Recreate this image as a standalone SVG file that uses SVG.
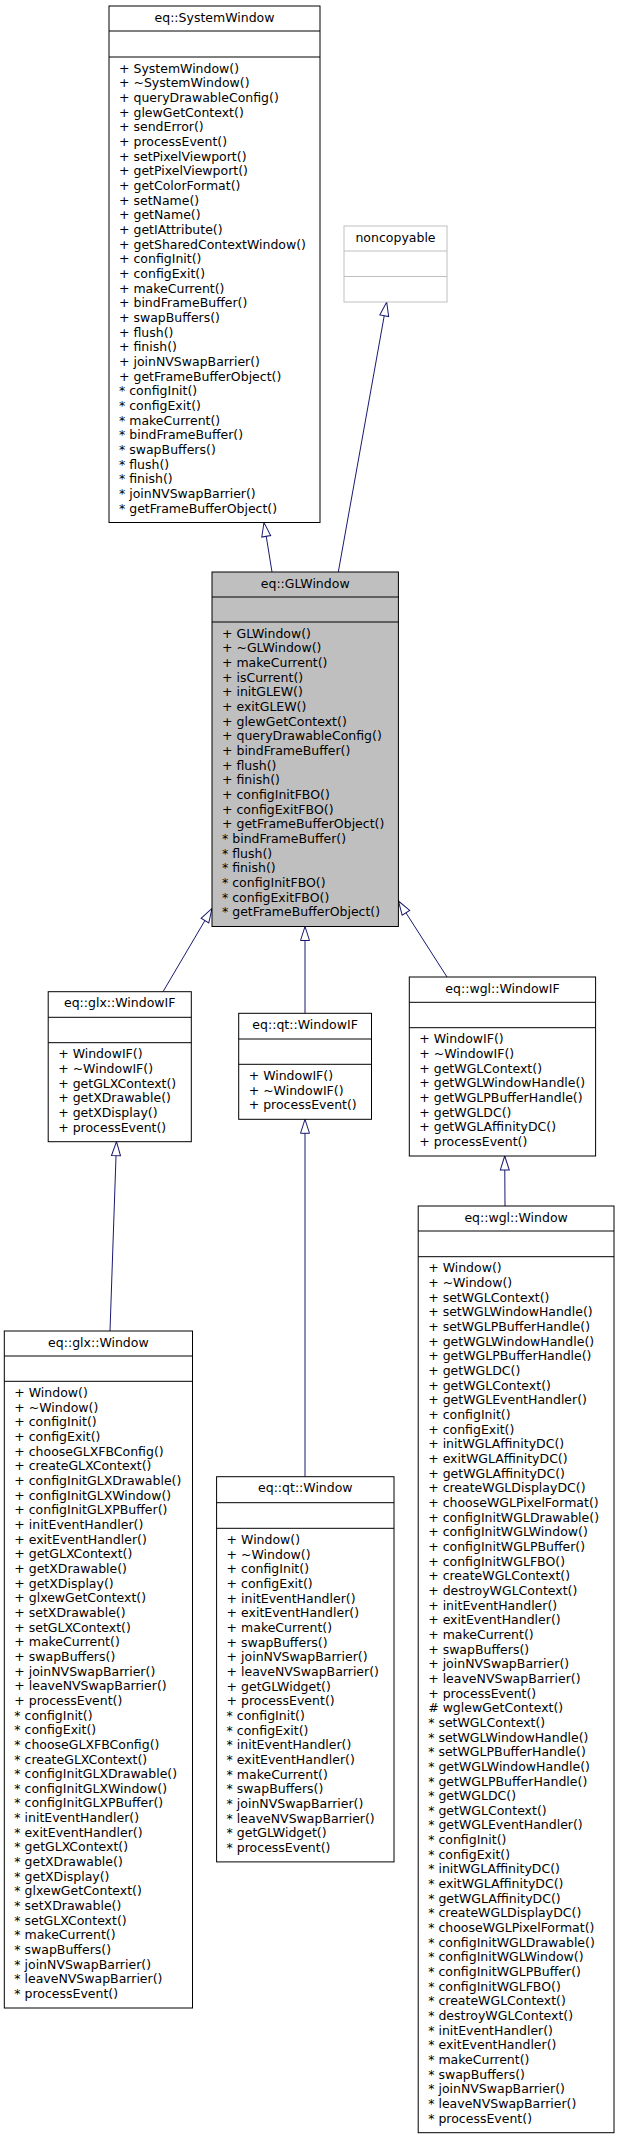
<svg xmlns="http://www.w3.org/2000/svg" width="620" height="2139" viewBox="0 0 620 2139">
<style>
text{font-family:"DejaVu Sans","Liberation Sans",sans-serif;font-size:12.5px;fill:#000}
.h{text-anchor:middle}
.box{fill:#fff;stroke:#000;stroke-width:1}
.cur{fill:#bfbfbf;stroke:#000;stroke-width:1}
.ext{fill:#fff;stroke:#bfbfbf;stroke-width:1}
.sep{stroke:#000;stroke-width:1}
.sepx{stroke:#bfbfbf;stroke-width:1}
.edge{stroke:#191970;stroke-width:1;fill:none;marker-end:url(#tri)}
</style>
<defs>
<marker id="tri" viewBox="0 0 14 10" refX="14" refY="5" markerWidth="14" markerHeight="10" markerUnits="userSpaceOnUse" orient="auto" overflow="visible">
<path d="M0,0.5 L14,5 L0,9.5 Z" fill="#fff" stroke="#191970" stroke-width="1"/>
</marker>
</defs>
<rect width="620" height="2139" fill="#fff"/>

<g id="edges">
<line class="edge" x1="272" y1="572" x2="264" y2="522.5"/>
<line class="edge" x1="338.3" y1="572" x2="386.7" y2="302"/>
<line class="edge" x1="163" y1="991.7" x2="212" y2="908.5"/>
<line class="edge" x1="305" y1="1013.3" x2="305" y2="926.5"/>
<line class="edge" x1="447" y1="977" x2="398.4" y2="901"/>
<line class="edge" x1="110" y1="1331" x2="116.5" y2="1141.7"/>
<line class="edge" x1="305" y1="1476.7" x2="305" y2="1119.3"/>
<line class="edge" x1="505" y1="1206" x2="504.7" y2="1156"/>
</g>

<g id="SystemWindow">
<rect class="box" x="109" y="6" width="211" height="516.5"/>
<line class="sep" x1="109" y1="31" x2="320" y2="31"/>
<line class="sep" x1="109" y1="57" x2="320" y2="57"/>
<text class="h" x="214.5" y="21.5">eq::SystemWindow</text>
<text x="119" y="72.7"><tspan x="119">+ SystemWindow()</tspan><tspan x="119" dy="14.66">+ ~SystemWindow()</tspan><tspan x="119" dy="14.66">+ queryDrawableConfig()</tspan><tspan x="119" dy="14.66">+ glewGetContext()</tspan><tspan x="119" dy="14.66">+ sendError()</tspan><tspan x="119" dy="14.66">+ processEvent()</tspan><tspan x="119" dy="14.66">+ setPixelViewport()</tspan><tspan x="119" dy="14.66">+ getPixelViewport()</tspan><tspan x="119" dy="14.66">+ getColorFormat()</tspan><tspan x="119" dy="14.66">+ setName()</tspan><tspan x="119" dy="14.66">+ getName()</tspan><tspan x="119" dy="14.66">+ getIAttribute()</tspan><tspan x="119" dy="14.66">+ getSharedContextWindow()</tspan><tspan x="119" dy="14.66">+ configInit()</tspan><tspan x="119" dy="14.66">+ configExit()</tspan><tspan x="119" dy="14.66">+ makeCurrent()</tspan><tspan x="119" dy="14.66">+ bindFrameBuffer()</tspan><tspan x="119" dy="14.66">+ swapBuffers()</tspan><tspan x="119" dy="14.66">+ flush()</tspan><tspan x="119" dy="14.66">+ finish()</tspan><tspan x="119" dy="14.66">+ joinNVSwapBarrier()</tspan><tspan x="119" dy="14.66">+ getFrameBufferObject()</tspan><tspan x="119" dy="14.66">* configInit()</tspan><tspan x="119" dy="14.66">* configExit()</tspan><tspan x="119" dy="14.66">* makeCurrent()</tspan><tspan x="119" dy="14.66">* bindFrameBuffer()</tspan><tspan x="119" dy="14.66">* swapBuffers()</tspan><tspan x="119" dy="14.66">* flush()</tspan><tspan x="119" dy="14.66">* finish()</tspan><tspan x="119" dy="14.66">* joinNVSwapBarrier()</tspan><tspan x="119" dy="14.66">* getFrameBufferObject()</tspan></text>
</g>

<g id="noncopyable">
<rect class="ext" x="344" y="226" width="103" height="76"/>
<line class="sepx" x1="344" y1="251" x2="447" y2="251"/>
<line class="sepx" x1="344" y1="276.5" x2="447" y2="276.5"/>
<text class="h" x="395.5" y="241.6">noncopyable</text>
</g>

<g id="GLWindow">
<rect class="cur" x="212" y="572" width="186.4" height="354.5"/>
<line class="sep" x1="212" y1="597" x2="398.4" y2="597"/>
<line class="sep" x1="212" y1="622" x2="398.4" y2="622"/>
<text class="h" x="305.2" y="587.5">eq::GLWindow</text>
<text x="222" y="637.7"><tspan x="222">+ GLWindow()</tspan><tspan x="222" dy="14.66">+ ~GLWindow()</tspan><tspan x="222" dy="14.66">+ makeCurrent()</tspan><tspan x="222" dy="14.66">+ isCurrent()</tspan><tspan x="222" dy="14.66">+ initGLEW()</tspan><tspan x="222" dy="14.66">+ exitGLEW()</tspan><tspan x="222" dy="14.66">+ glewGetContext()</tspan><tspan x="222" dy="14.66">+ queryDrawableConfig()</tspan><tspan x="222" dy="14.66">+ bindFrameBuffer()</tspan><tspan x="222" dy="14.66">+ flush()</tspan><tspan x="222" dy="14.66">+ finish()</tspan><tspan x="222" dy="14.66">+ configInitFBO()</tspan><tspan x="222" dy="14.66">+ configExitFBO()</tspan><tspan x="222" dy="14.66">+ getFrameBufferObject()</tspan><tspan x="222" dy="14.66">* bindFrameBuffer()</tspan><tspan x="222" dy="14.66">* flush()</tspan><tspan x="222" dy="14.66">* finish()</tspan><tspan x="222" dy="14.66">* configInitFBO()</tspan><tspan x="222" dy="14.66">* configExitFBO()</tspan><tspan x="222" dy="14.66">* getFrameBufferObject()</tspan></text>
</g>

<g id="glxWindowIF">
<rect class="box" x="48.2" y="991.7" width="143.1" height="150"/>
<line class="sep" x1="48.2" y1="1017.3" x2="191.3" y2="1017.3"/>
<line class="sep" x1="48.2" y1="1042.7" x2="191.3" y2="1042.7"/>
<text class="h" x="119.7" y="1007.2">eq::glx::WindowIF</text>
<text x="58.2" y="1058.4"><tspan x="58.2">+ WindowIF()</tspan><tspan x="58.2" dy="14.66">+ ~WindowIF()</tspan><tspan x="58.2" dy="14.66">+ getGLXContext()</tspan><tspan x="58.2" dy="14.66">+ getXDrawable()</tspan><tspan x="58.2" dy="14.66">+ getXDisplay()</tspan><tspan x="58.2" dy="14.66">+ processEvent()</tspan></text>
</g>

<g id="qtWindowIF">
<rect class="box" x="238.7" y="1013.3" width="132.8" height="106"/>
<line class="sep" x1="238.7" y1="1039" x2="371.5" y2="1039"/>
<line class="sep" x1="238.7" y1="1064.3" x2="371.5" y2="1064.3"/>
<text class="h" x="305.1" y="1028.8">eq::qt::WindowIF</text>
<text x="248.7" y="1080"><tspan x="248.7">+ WindowIF()</tspan><tspan x="248.7" dy="14.66">+ ~WindowIF()</tspan><tspan x="248.7" dy="14.66">+ processEvent()</tspan></text>
</g>

<g id="wglWindowIF">
<rect class="box" x="409.3" y="977" width="186.3" height="179"/>
<line class="sep" x1="409.3" y1="1002.3" x2="595.6" y2="1002.3"/>
<line class="sep" x1="409.3" y1="1027.7" x2="595.6" y2="1027.7"/>
<text class="h" x="502.5" y="992.5">eq::wgl::WindowIF</text>
<text x="419.3" y="1043.4"><tspan x="419.3">+ WindowIF()</tspan><tspan x="419.3" dy="14.66">+ ~WindowIF()</tspan><tspan x="419.3" dy="14.66">+ getWGLContext()</tspan><tspan x="419.3" dy="14.66">+ getWGLWindowHandle()</tspan><tspan x="419.3" dy="14.66">+ getWGLPBufferHandle()</tspan><tspan x="419.3" dy="14.66">+ getWGLDC()</tspan><tspan x="419.3" dy="14.66">+ getWGLAffinityDC()</tspan><tspan x="419.3" dy="14.66">+ processEvent()</tspan></text>
</g>

<g id="glxWindow">
<rect class="box" x="4.3" y="1331" width="188.2" height="677"/>
<line class="sep" x1="4.3" y1="1356" x2="192.5" y2="1356"/>
<line class="sep" x1="4.3" y1="1381.3" x2="192.5" y2="1381.3"/>
<text class="h" x="98.4" y="1346.5">eq::glx::Window</text>
<text x="14.3" y="1397"><tspan x="14.3">+ Window()</tspan><tspan x="14.3" dy="14.66">+ ~Window()</tspan><tspan x="14.3" dy="14.66">+ configInit()</tspan><tspan x="14.3" dy="14.66">+ configExit()</tspan><tspan x="14.3" dy="14.66">+ chooseGLXFBConfig()</tspan><tspan x="14.3" dy="14.66">+ createGLXContext()</tspan><tspan x="14.3" dy="14.66">+ configInitGLXDrawable()</tspan><tspan x="14.3" dy="14.66">+ configInitGLXWindow()</tspan><tspan x="14.3" dy="14.66">+ configInitGLXPBuffer()</tspan><tspan x="14.3" dy="14.66">+ initEventHandler()</tspan><tspan x="14.3" dy="14.66">+ exitEventHandler()</tspan><tspan x="14.3" dy="14.66">+ getGLXContext()</tspan><tspan x="14.3" dy="14.66">+ getXDrawable()</tspan><tspan x="14.3" dy="14.66">+ getXDisplay()</tspan><tspan x="14.3" dy="14.66">+ glxewGetContext()</tspan><tspan x="14.3" dy="14.66">+ setXDrawable()</tspan><tspan x="14.3" dy="14.66">+ setGLXContext()</tspan><tspan x="14.3" dy="14.66">+ makeCurrent()</tspan><tspan x="14.3" dy="14.66">+ swapBuffers()</tspan><tspan x="14.3" dy="14.66">+ joinNVSwapBarrier()</tspan><tspan x="14.3" dy="14.66">+ leaveNVSwapBarrier()</tspan><tspan x="14.3" dy="14.66">+ processEvent()</tspan><tspan x="14.3" dy="14.66">* configInit()</tspan><tspan x="14.3" dy="14.66">* configExit()</tspan><tspan x="14.3" dy="14.66">* chooseGLXFBConfig()</tspan><tspan x="14.3" dy="14.66">* createGLXContext()</tspan><tspan x="14.3" dy="14.66">* configInitGLXDrawable()</tspan><tspan x="14.3" dy="14.66">* configInitGLXWindow()</tspan><tspan x="14.3" dy="14.66">* configInitGLXPBuffer()</tspan><tspan x="14.3" dy="14.66">* initEventHandler()</tspan><tspan x="14.3" dy="14.66">* exitEventHandler()</tspan><tspan x="14.3" dy="14.66">* getGLXContext()</tspan><tspan x="14.3" dy="14.66">* getXDrawable()</tspan><tspan x="14.3" dy="14.66">* getXDisplay()</tspan><tspan x="14.3" dy="14.66">* glxewGetContext()</tspan><tspan x="14.3" dy="14.66">* setXDrawable()</tspan><tspan x="14.3" dy="14.66">* setGLXContext()</tspan><tspan x="14.3" dy="14.66">* makeCurrent()</tspan><tspan x="14.3" dy="14.66">* swapBuffers()</tspan><tspan x="14.3" dy="14.66">* joinNVSwapBarrier()</tspan><tspan x="14.3" dy="14.66">* leaveNVSwapBarrier()</tspan><tspan x="14.3" dy="14.66">* processEvent()</tspan></text>
</g>

<g id="qtWindow">
<rect class="box" x="216.6" y="1476.7" width="177.4" height="385.2"/>
<line class="sep" x1="216.6" y1="1502.7" x2="394" y2="1502.7"/>
<line class="sep" x1="216.6" y1="1528.3" x2="394" y2="1528.3"/>
<text class="h" x="305.3" y="1492.2">eq::qt::Window</text>
<text x="226.6" y="1544"><tspan x="226.6">+ Window()</tspan><tspan x="226.6" dy="14.66">+ ~Window()</tspan><tspan x="226.6" dy="14.66">+ configInit()</tspan><tspan x="226.6" dy="14.66">+ configExit()</tspan><tspan x="226.6" dy="14.66">+ initEventHandler()</tspan><tspan x="226.6" dy="14.66">+ exitEventHandler()</tspan><tspan x="226.6" dy="14.66">+ makeCurrent()</tspan><tspan x="226.6" dy="14.66">+ swapBuffers()</tspan><tspan x="226.6" dy="14.66">+ joinNVSwapBarrier()</tspan><tspan x="226.6" dy="14.66">+ leaveNVSwapBarrier()</tspan><tspan x="226.6" dy="14.66">+ getGLWidget()</tspan><tspan x="226.6" dy="14.66">+ processEvent()</tspan><tspan x="226.6" dy="14.66">* configInit()</tspan><tspan x="226.6" dy="14.66">* configExit()</tspan><tspan x="226.6" dy="14.66">* initEventHandler()</tspan><tspan x="226.6" dy="14.66">* exitEventHandler()</tspan><tspan x="226.6" dy="14.66">* makeCurrent()</tspan><tspan x="226.6" dy="14.66">* swapBuffers()</tspan><tspan x="226.6" dy="14.66">* joinNVSwapBarrier()</tspan><tspan x="226.6" dy="14.66">* leaveNVSwapBarrier()</tspan><tspan x="226.6" dy="14.66">* getGLWidget()</tspan><tspan x="226.6" dy="14.66">* processEvent()</tspan></text>
</g>

<g id="wglWindow">
<rect class="box" x="418.2" y="1206" width="195.8" height="926.7"/>
<line class="sep" x1="418.2" y1="1231" x2="614" y2="1231"/>
<line class="sep" x1="418.2" y1="1256.7" x2="614" y2="1256.7"/>
<text class="h" x="516.1" y="1221.5">eq::wgl::Window</text>
<text x="428.2" y="1272.4"><tspan x="428.2">+ Window()</tspan><tspan x="428.2" dy="14.66">+ ~Window()</tspan><tspan x="428.2" dy="14.66">+ setWGLContext()</tspan><tspan x="428.2" dy="14.66">+ setWGLWindowHandle()</tspan><tspan x="428.2" dy="14.66">+ setWGLPBufferHandle()</tspan><tspan x="428.2" dy="14.66">+ getWGLWindowHandle()</tspan><tspan x="428.2" dy="14.66">+ getWGLPBufferHandle()</tspan><tspan x="428.2" dy="14.66">+ getWGLDC()</tspan><tspan x="428.2" dy="14.66">+ getWGLContext()</tspan><tspan x="428.2" dy="14.66">+ getWGLEventHandler()</tspan><tspan x="428.2" dy="14.66">+ configInit()</tspan><tspan x="428.2" dy="14.66">+ configExit()</tspan><tspan x="428.2" dy="14.66">+ initWGLAffinityDC()</tspan><tspan x="428.2" dy="14.66">+ exitWGLAffinityDC()</tspan><tspan x="428.2" dy="14.66">+ getWGLAffinityDC()</tspan><tspan x="428.2" dy="14.66">+ createWGLDisplayDC()</tspan><tspan x="428.2" dy="14.66">+ chooseWGLPixelFormat()</tspan><tspan x="428.2" dy="14.66">+ configInitWGLDrawable()</tspan><tspan x="428.2" dy="14.66">+ configInitWGLWindow()</tspan><tspan x="428.2" dy="14.66">+ configInitWGLPBuffer()</tspan><tspan x="428.2" dy="14.66">+ configInitWGLFBO()</tspan><tspan x="428.2" dy="14.66">+ createWGLContext()</tspan><tspan x="428.2" dy="14.66">+ destroyWGLContext()</tspan><tspan x="428.2" dy="14.66">+ initEventHandler()</tspan><tspan x="428.2" dy="14.66">+ exitEventHandler()</tspan><tspan x="428.2" dy="14.66">+ makeCurrent()</tspan><tspan x="428.2" dy="14.66">+ swapBuffers()</tspan><tspan x="428.2" dy="14.66">+ joinNVSwapBarrier()</tspan><tspan x="428.2" dy="14.66">+ leaveNVSwapBarrier()</tspan><tspan x="428.2" dy="14.66">+ processEvent()</tspan><tspan x="428.2" dy="14.66"># wglewGetContext()</tspan><tspan x="428.2" dy="14.66">* setWGLContext()</tspan><tspan x="428.2" dy="14.66">* setWGLWindowHandle()</tspan><tspan x="428.2" dy="14.66">* setWGLPBufferHandle()</tspan><tspan x="428.2" dy="14.66">* getWGLWindowHandle()</tspan><tspan x="428.2" dy="14.66">* getWGLPBufferHandle()</tspan><tspan x="428.2" dy="14.66">* getWGLDC()</tspan><tspan x="428.2" dy="14.66">* getWGLContext()</tspan><tspan x="428.2" dy="14.66">* getWGLEventHandler()</tspan><tspan x="428.2" dy="14.66">* configInit()</tspan><tspan x="428.2" dy="14.66">* configExit()</tspan><tspan x="428.2" dy="14.66">* initWGLAffinityDC()</tspan><tspan x="428.2" dy="14.66">* exitWGLAffinityDC()</tspan><tspan x="428.2" dy="14.66">* getWGLAffinityDC()</tspan><tspan x="428.2" dy="14.66">* createWGLDisplayDC()</tspan><tspan x="428.2" dy="14.66">* chooseWGLPixelFormat()</tspan><tspan x="428.2" dy="14.66">* configInitWGLDrawable()</tspan><tspan x="428.2" dy="14.66">* configInitWGLWindow()</tspan><tspan x="428.2" dy="14.66">* configInitWGLPBuffer()</tspan><tspan x="428.2" dy="14.66">* configInitWGLFBO()</tspan><tspan x="428.2" dy="14.66">* createWGLContext()</tspan><tspan x="428.2" dy="14.66">* destroyWGLContext()</tspan><tspan x="428.2" dy="14.66">* initEventHandler()</tspan><tspan x="428.2" dy="14.66">* exitEventHandler()</tspan><tspan x="428.2" dy="14.66">* makeCurrent()</tspan><tspan x="428.2" dy="14.66">* swapBuffers()</tspan><tspan x="428.2" dy="14.66">* joinNVSwapBarrier()</tspan><tspan x="428.2" dy="14.66">* leaveNVSwapBarrier()</tspan><tspan x="428.2" dy="14.66">* processEvent()</tspan></text>
</g>
</svg>
